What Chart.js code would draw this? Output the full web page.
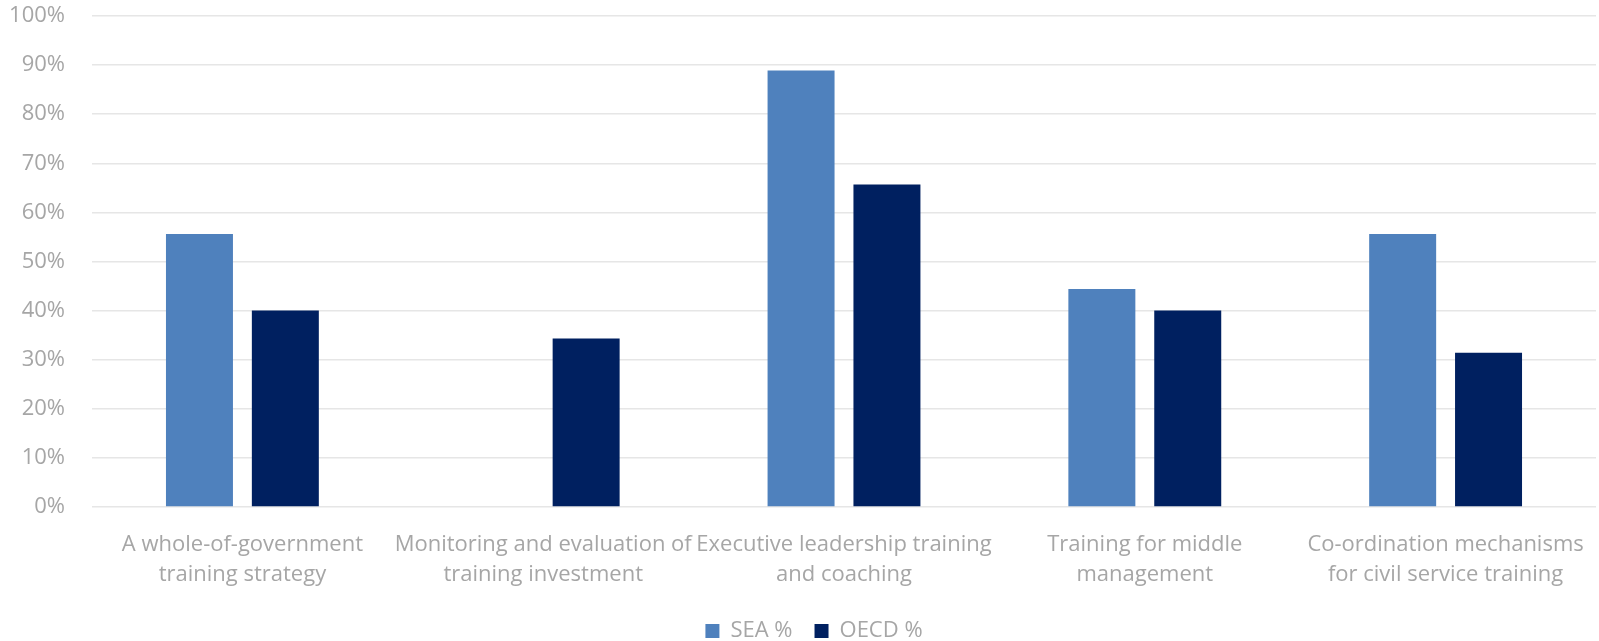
<!DOCTYPE html>
<html>
<head>
<meta charset="utf-8">
<script src="https://cdn.jsdelivr.net/npm/chart.js@4"></script>
<style>
  html, body { margin: 0; padding: 0; background: #fff; }
  #wrap { width: 1599px; height: 641px; }
</style>
</head>
<body>
<div id="wrap"><canvas id="chart"></canvas></div>
<script>
const categories = [
  ['A whole-of-government', 'training strategy'],
  ['Monitoring and evaluation of', 'training investment'],
  ['Executive leadership training', 'and coaching'],
  ['Training for middle', 'management'],
  ['Co-ordination mechanisms', 'for civil service training'],
];
const seaValues = [55.6, 0, 88.9, 44.4, 55.6];
const oecdValues = [40.0, 34.3, 65.7, 40.0, 31.4];
const yTicks = [0, 10, 20, 30, 40, 50, 60, 70, 80, 90, 100];

const textColor = '#a6a6a6';
const fontFamily = '"Open Sans", "Noto Sans", sans-serif';

// nudge the legend a bit right, like the original
const legendShift = {
  id: 'legendShift',
  afterLayout(chart) {
    chart.legend.left += 16;
    chart.legend.right += 16;
  },
};

new Chart(document.getElementById('chart'), {
  type: 'bar',
  data: {
    labels: categories,
    datasets: [
      {
        label: 'SEA %',
        data: seaValues,
        backgroundColor: '#4f81bd',
        categoryPercentage: 0.571,
        barPercentage: 0.78,
      },
      {
        label: 'OECD %',
        data: oecdValues,
        backgroundColor: '#002060',
        categoryPercentage: 0.571,
        barPercentage: 0.78,
      },
    ],
  },
  plugins: [legendShift],
  options: {
    responsive: true,
    maintainAspectRatio: false,
    animation: false,
    layout: { padding: { top: 16, right: 3, left: 0, bottom: -11 } },
    plugins: {
      tooltip: { enabled: false },
      legend: {
        position: 'bottom',
        labels: {
          color: textColor,
          font: { family: fontFamily, size: 22 },
          boxWidth: 14,
          boxHeight: 14,
          padding: 22,
        },
      },
    },
    scales: {
      x: {
        grid: { display: false },
        border: { display: false },
        ticks: {
          color: textColor,
          font: { family: fontFamily, size: 22, lineHeight: 1.4 },
          maxRotation: 0,
          autoSkip: false,
          padding: 14,
        },
        afterFit: (axis) => {
          axis.height = 91;
        },
      },
      y: {
        min: 0,
        max: 100,
        afterBuildTicks: (axis) => {
          axis.ticks = yTicks.map((v) => ({ value: v }));
        },
        afterFit: (axis) => {
          axis.width = 92;
          axis.paddingTop = 0;
          axis.paddingBottom = 0;
        },
        grid: { color: '#e6e6e6', lineWidth: 1.5, drawTicks: false },
        border: { display: false },
        ticks: {
          color: textColor,
          font: { family: fontFamily, size: 22 },
          padding: 27,
          callback: (v) => v + '%',
        },
      },
    },
  },
});
</script>
</body>
</html>
